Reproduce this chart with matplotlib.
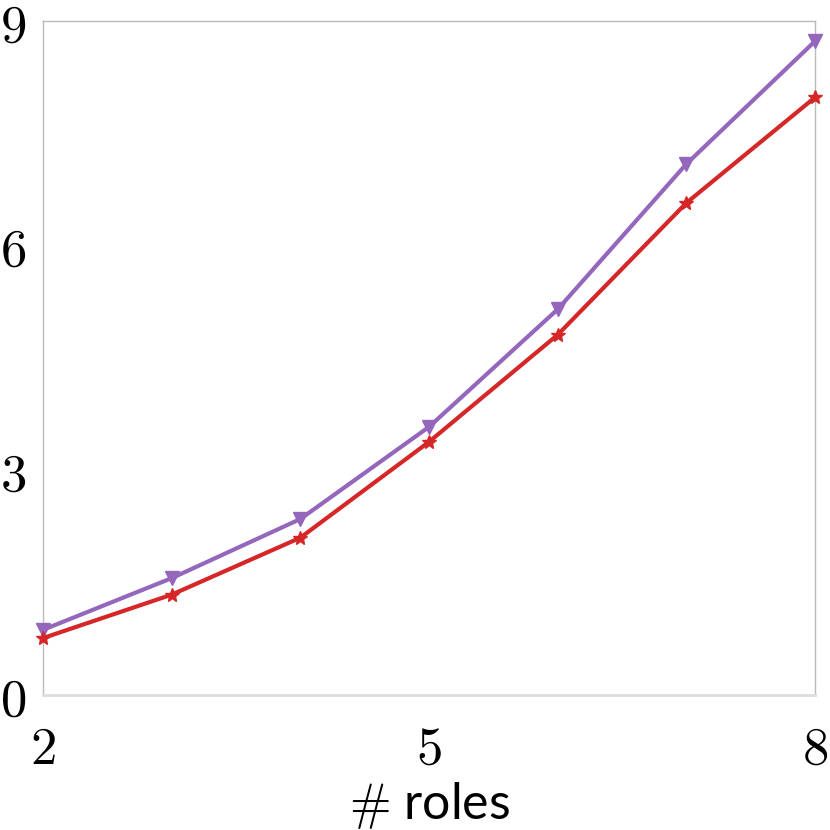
import matplotlib
matplotlib.use("Agg")
import matplotlib.pyplot as plt
import matplotlib.ticker as ticker

plt.rcParams['mathtext.fontset'] = 'cm'

roles = [2, 3, 4, 5, 6, 7, 8]
purple_vals = [0.87, 1.56, 2.35, 3.58, 5.15, 7.09, 8.73]
red_vals = [0.76, 1.34, 2.10, 3.38, 4.81, 6.57, 7.98]
x_ticks = [2, 5, 8]
y_ticks = [0, 3, 6, 9]

fig = plt.figure(figsize=(8.3, 8.3), dpi=100)
ax = fig.add_axes([43 / 830, 135 / 830, 772 / 830, 674 / 830])

ax.plot(roles, purple_vals, color='#9467bd', lw=3, marker='v', ms=10, clip_on=False, zorder=3)
ax.plot(roles, red_vals, color='#d62728', lw=3, marker='*', ms=10, clip_on=False, zorder=3)

ax.set_xlim(2, 8)
ax.set_ylim(0, 9)
ax.set_xticks(x_ticks)
ax.set_yticks(y_ticks)
ax.xaxis.set_major_formatter(ticker.FuncFormatter(lambda v, p: f"${int(v)}$"))
ax.yaxis.set_major_formatter(ticker.FuncFormatter(lambda v, p: f"${int(v)}$"))
ax.tick_params(axis='both', length=0, labelsize=38)
ax.tick_params(axis='x', pad=20)
ax.tick_params(axis='y', pad=12)

for side in ['top', 'left', 'right']:
    ax.spines[side].set_color('#bbbbbb')
    ax.spines[side].set_linewidth(1)
ax.spines['bottom'].set_color('#dddddd')
ax.spines['bottom'].set_linewidth(2)

ax.set_xlabel(r"$\#$ roles", fontsize=36, labelpad=4, family=['Lato', 'DejaVu Sans'])

fig.savefig("out.png", dpi=100)
